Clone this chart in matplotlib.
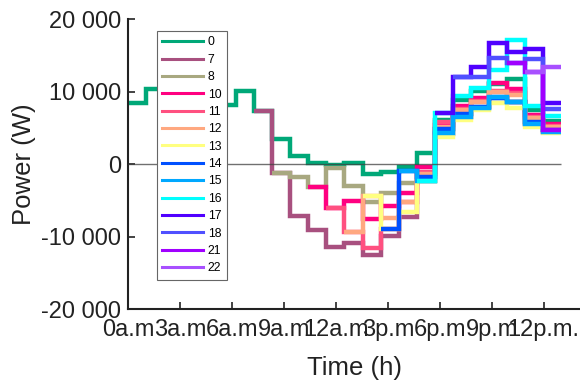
import numpy as np
import matplotlib
matplotlib.use("Agg")
import matplotlib.pyplot as plt
from matplotlib.lines import Line2D

plt.rcParams['font.family'] = ['Liberation Sans', 'DejaVu Sans']

# step edges (24 steps over the day)
edges = np.linspace(0, 25, 25)

# each plan starts at the step given by its label
labels = ["0", "7", "8", "10", "11", "12", "13", "14", "15", "16", "17", "18", "21", "22"]
starts = [0, 7, 8, 10, 11, 12, 13, 14, 15, 16, 17, 18, 21, 22]
colors = ["#00a878", "#a8507f", "#a8a880", "#ff0080", "#ff5080", "#ffa880", "#ffff80",
          "#0050ff", "#00a8ff", "#00ffff", "#5000ff", "#5050ff", "#a000ff", "#a850ff"]

p0 = [8400, 10300, 10000, 9600, 9200, 8150, 10100, 7350, 3450, 1100, 100, -100,
      100, -1380, -1060, -370, 1550, 6100, 8800, 10100, 11000, 11700, 7500, 6000]
p7 = [7350, -1200, -7130, -9100, -11400, -10940, -12550, -9930, -7270, -2400,
      4200, 6550, 7700, 9290, 8600, 5500, 4460]
p8 = [-1200, -1830, -3130, -550, -3030, -5200, -3950, -2660, -1380, 4800, 6900,
      7900, 9100, 8500, 5700, 4700]
p10 = [-3130, -6110, -5100, -7630, -5790, -4040, -460, 5380, 8000, 9060, 11130,
       10300, 6760, 5520]
p11 = [-6110, -9340, -11630, -8960, -5200, -1100, 5790, 7650, 8730, 10100, 9750,
       6440, 5200]
p12 = [-9340, -4410, -7400, -5200, -1380, 5100, 7500, 8600, 9900, 9500, 6300, 5100]
p13 = [-4410, -8960, -6580, -2400, 3680, 6070, 7400, 8400, 7700, 5150, 4300]
p14 = [-8960, -1000, -1840, 4830, 6900, 7900, 9100, 8500, 5750, 4700]
p15 = [-1000, -2400, 4230, 6550, 7700, 9290, 8600, 5500, 4460]
p16 = [-2400, 7080, 9400, 10500, 12960, 17100, 7950, 6620]
p17 = [7050, 12040, 13420, 16640, 15490, 15820, 8400]
p18 = [12040, 12040, 14660, 13890, 14440, 7540]
p21 = [13890, 12700, 4700]
p22 = [12700, 13420]
plans = [p0, p7, p8, p10, p11, p12, p13, p14, p15, p16, p17, p18, p21, p22]

xticks = [0, 3, 6, 9, 12, 15, 18, 21, 24]
xticklabels = ["0a.m", "3a.m", "6a.m", "9a.m", "12a.m", "3p.m", "6p.m", "9p.m", "12p.m."]
yticks = [-20000, -10000, 0, 10000, 20000]
yticklabels = ["-20 000", "-10 000", "0", "10 000", "20 000"]

fig = plt.figure(figsize=(5.8, 3.85), dpi=100)
ax = fig.add_axes([0.2207, 0.1974, 0.7793, 0.7532])

handles = []
for lab, s, c, vals in zip(labels, starts, colors, plans):
    ax.stairs(vals, edges[s:], baseline=None, color=c, lw=3.2)
    handles.append(Line2D([], [], color=c, lw=2.2, label=lab))

ax.hlines(0, edges[0], edges[-1], color="#404040", lw=1, alpha=0.75, zorder=5)

ax.set_xlim(0, 26.1)
ax.set_ylim(-20000, 20000)
ax.set_xticks(xticks)
ax.set_xticklabels(xticklabels)
ax.set_yticks(yticks)
ax.set_yticklabels(yticklabels)
ax.tick_params(direction="in", length=5, width=1.2, labelsize=17, colors="#222222")
ax.tick_params(axis="x", pad=7)
ax.tick_params(axis="y", pad=5)
ax.spines["top"].set_visible(False)
ax.spines["right"].set_visible(False)
for sp in ("left", "bottom"):
    ax.spines[sp].set_linewidth(1.5)
    ax.spines[sp].set_color("#222222")

ax.set_xlabel("Time (h)", fontsize=18.5, color="#222222", labelpad=11)
ax.set_ylabel("Power (W)", fontsize=18.5, color="#222222", labelpad=4)

leg = ax.legend(handles=handles, loc="upper left", bbox_to_anchor=(0.064, 0.959),
                borderaxespad=0, fontsize=8.8, labelspacing=0.44, handlelength=3.3,
                handletextpad=0.4, borderpad=0.45, fancybox=False, framealpha=1)
leg.get_frame().set_edgecolor("#666666")
leg.get_frame().set_linewidth(0.8)

fig.savefig("out.png", dpi=100)
